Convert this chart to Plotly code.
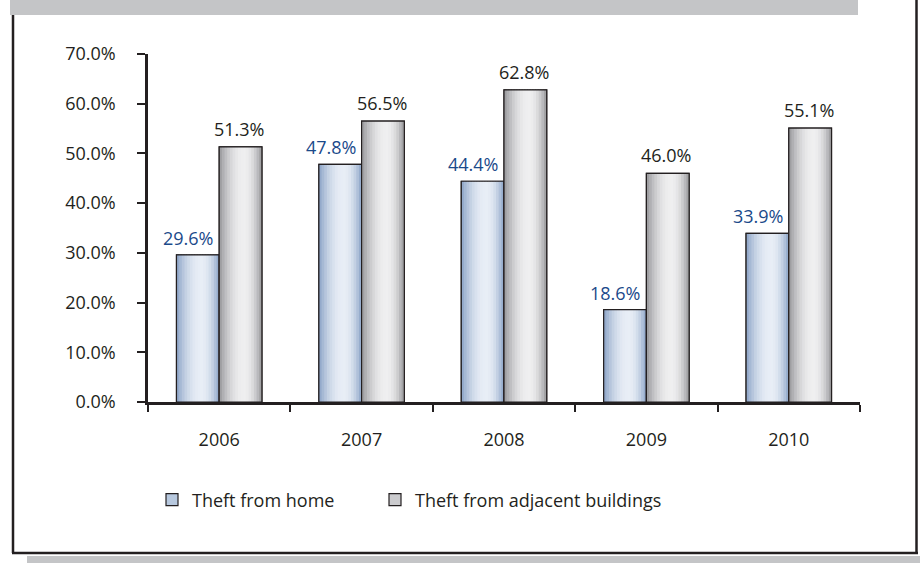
import plotly.graph_objects as go

years = ["2006", "2007", "2008", "2009", "2010"]
home = [29.6, 47.8, 44.4, 18.6, 33.9]
adjacent = [51.3, 56.5, 62.8, 46.0, 55.1]
series_names = ["Theft from home", "Theft from adjacent buildings"]
ytick_vals = [0, 10, 20, 30, 40, 50, 60, 70]
ytick_text = ["0.0%", "10.0%", "20.0%", "30.0%", "40.0%", "50.0%", "60.0%", "70.0%"]

FONT = "Open Sans"
DARK = "#231f20"
FS = 18
BAR_W = 0.3          # width of one bar in category units
N_STRIPES = 16       # stripes used to imitate the cylindrical shading


def lerp(c1, c2, s):
    return "rgb(%d,%d,%d)" % tuple(round(a + (b - a) * s) for a, b in zip(c1, c2))


def shade(t, peak=0.58):
    if t < peak:
        v = 1 - ((peak - t) / peak) ** 2
    else:
        v = 1 - ((t - peak) / (1 - peak)) ** 2
    return max(0.0, min(1.0, v))


styles = [
    dict(values=home, name=series_names[0], offset=-BAR_W, edge=(138, 162, 198),
         light=(232, 238, 246), mid="#b7c8de", text_color="#1b4a8a", legend="legend"),
    dict(values=adjacent, name=series_names[1], offset=0.0, edge=(150, 150, 153),
         light=(239, 239, 240), mid="#cbcbce", text_color=DARK, legend="legend2"),
]

fig = go.Figure()
for st in styles:
    # base bar (carries the legend entry)
    fig.add_trace(go.Bar(
        x=years, y=st["values"], name=st["name"], legend=st["legend"],
        offset=st["offset"], width=BAR_W,
        marker=dict(color=st["mid"], line=dict(color=DARK, width=1.2)),
        hoverinfo="skip",
    ))
    # shading stripes
    w = BAR_W / N_STRIPES
    for i in range(N_STRIPES):
        t = (i + 0.5) / N_STRIPES
        sw = w * 1.6 if i < N_STRIPES - 1 else w
        fig.add_trace(go.Bar(
            x=years, y=st["values"], showlegend=False, hoverinfo="skip",
            offset=st["offset"] + i * w, width=sw,
            marker=dict(color=lerp(st["edge"], st["light"], shade(t)), line=dict(width=0)),
        ))
    # outline on top
    fig.add_trace(go.Bar(
        x=years, y=st["values"], showlegend=False, name=st["name"],
        offset=st["offset"], width=BAR_W,
        marker=dict(color="rgba(0,0,0,0)", line=dict(color=DARK, width=1.2)),
    ))

annotations = []
for st, xshift, yshift in [(styles[0], -31, 17), (styles[1], 20, 18)]:
    for idx, v in enumerate(st["values"]):
        annotations.append(dict(
            x=idx, y=v, xref="x", yref="y", text=f"{v:.1f}%", showarrow=False,
            xshift=xshift, yshift=yshift, yanchor="middle",
            font=dict(size=FS, family=FONT, color=st["text_color"]),
        ))


# page coordinates -> paper coordinates (plot area spans x 148..860, y 54..402)
def px(x):
    return (x - 148) / 712


def py(y):
    return (402 - y) / 348


shapes = [
    dict(type="rect", xref="paper", yref="paper", x0=px(10), x1=px(858),
         y0=py(0), y1=py(15), fillcolor="#c4c5c7", line=dict(width=0), layer="below"),
    dict(type="rect", xref="paper", yref="paper", x0=px(27), x1=px(920),
         y0=py(556), y1=py(563), fillcolor="#c4c5c7", line=dict(width=0), layer="below"),
    dict(type="line", xref="paper", yref="paper", x0=px(13), x1=px(13),
         y0=py(15), y1=py(553), line=dict(color=DARK, width=2.5)),
    dict(type="line", xref="paper", yref="paper", x0=px(12), x1=px(918),
         y0=py(553), y1=py(553), line=dict(color=DARK, width=2.5)),
    dict(type="line", xref="paper", yref="paper", x0=px(916.5), x1=px(916.5),
         y0=py(0), y1=py(553), line=dict(color=DARK, width=2.5)),
]

legend_common = dict(orientation="h", yanchor="middle", xanchor="left",
                     font=dict(size=FS, family=FONT, color=DARK),
                     itemwidth=30, bgcolor="rgba(0,0,0,0)")

fig.update_layout(
    width=920, height=563,
    margin=dict(l=148, r=60, t=54, b=161),
    paper_bgcolor="white", plot_bgcolor="white",
    barmode="overlay",
    font=dict(family=FONT, size=FS, color=DARK),
    showlegend=True,
    legend=dict(x=px(152), y=py(500), **legend_common),
    legend2=dict(x=px(375), y=py(500), **legend_common),
    shapes=shapes,
    annotations=annotations,
    xaxis=dict(type="category", range=[-0.5, len(years) - 0.5], showline=True, linecolor=DARK,
               linewidth=2.5, ticks="outside", tickson="boundaries", ticklen=7, tickwidth=2,
               tickcolor=DARK, ticklabelstandoff=20,
               tickfont=dict(size=FS, family=FONT, color=DARK), showgrid=False, zeroline=False),
    yaxis=dict(range=[0, 70], tickvals=ytick_vals, ticktext=ytick_text, showline=True,
               linecolor=DARK, linewidth=2.5, ticks="outside", ticklen=8, tickwidth=2,
               tickcolor=DARK, ticklabelstandoff=18, showgrid=False, zeroline=False,
               tickfont=dict(size=FS, family=FONT, color=DARK)),
)

fig.write_html(
    "out.html",
    config={"displayModeBar": False},
    post_script="document.body.style.margin='0';document.body.style.overflow='hidden';",
)
